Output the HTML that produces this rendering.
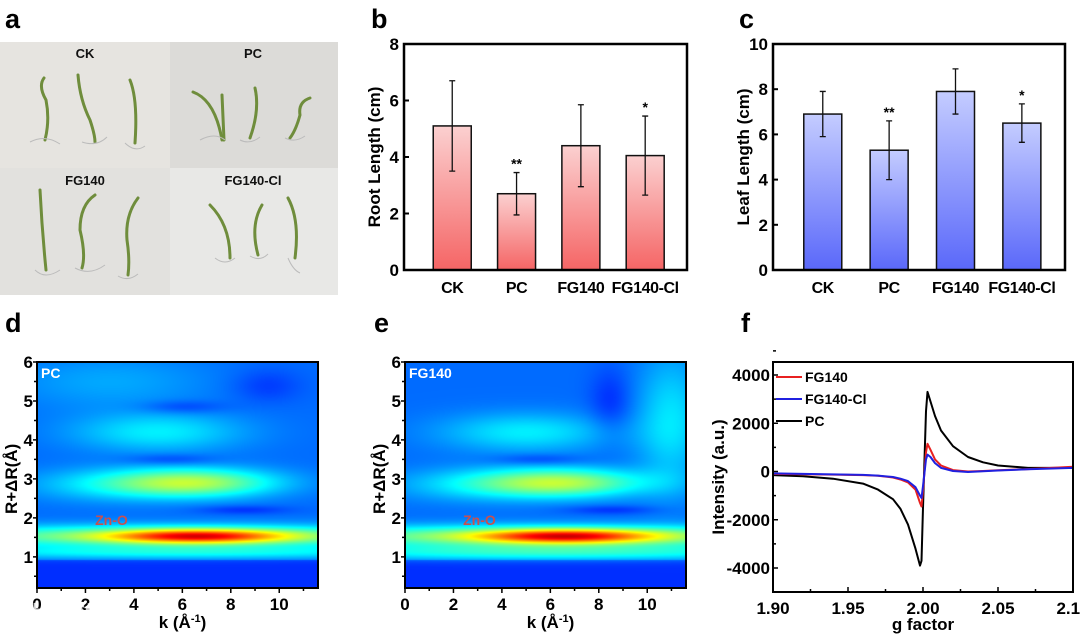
<!DOCTYPE html>
<html><head><meta charset="utf-8">
<style>
body{margin:0;background:#fff;width:1080px;height:634px;overflow:hidden;font-family:"Liberation Sans","Noto Sans CJK SC",sans-serif}
svg{position:absolute;left:0;top:0}
canvas{position:absolute}
</style></head><body>
<canvas id="hd" width="281" height="226" style="left:37px;top:362px"></canvas>
<canvas id="he" width="281" height="226" style="left:405px;top:362px"></canvas>
<svg id="s" width="1080" height="634" xmlns="http://www.w3.org/2000/svg" font-family="Liberation Sans, sans-serif" font-weight="bold">
<defs>
<linearGradient id="gr" x1="0" y1="0" x2="0" y2="1"><stop offset="0" stop-color="#fbd0d0"/><stop offset="1" stop-color="#f56565"/></linearGradient>
<linearGradient id="gb" x1="0" y1="0" x2="0" y2="1"><stop offset="0" stop-color="#c4ccff"/><stop offset="1" stop-color="#5a68fa"/></linearGradient>
</defs>
<g>
<rect x="0" y="42" width="170" height="126" fill="#e6e4e0"/>
<rect x="170" y="42" width="168" height="126" fill="#dcdbd8"/>
<rect x="0" y="168" width="170" height="127" fill="#e2e1de"/>
<rect x="170" y="168" width="168" height="127" fill="#e8e8e6"/>
<g fill="none" stroke="#6f8d3c" stroke-width="3" stroke-linecap="round">
<path d="M44 78 Q38 86 46 100 Q50 120 45 140"/><path d="M78 75 Q80 100 90 120 Q95 135 95 142"/><path d="M130 80 Q138 100 135 143"/>
<path d="M193 92 Q215 100 222 140"/><path d="M222 95 L224 140"/><path d="M255 88 Q260 110 250 138"/><path d="M310 98 Q298 102 300 115 Q296 130 290 138"/>
<path d="M40 190 Q42 230 46 270"/><path d="M95 195 Q80 205 80 230 Q86 255 82 268"/><path d="M138 198 Q125 215 127 240 Q130 260 128 275"/>
<path d="M210 205 Q230 225 230 258"/><path d="M262 205 Q250 225 258 255"/><path d="M288 198 Q300 220 295 258"/>
</g>
<g fill="none" stroke="#bbb" stroke-width="1"><path d="M30 142 q15 -8 30 2 M82 142 q15 5 25 -5 M125 143 q10 10 20 3 M200 140 q15 -8 25 0 M240 140 q10 5 20 -3 M285 138 q10 5 20 -2 M35 270 q10 10 25 0 M75 268 q15 8 30 -3 M118 276 q10 6 20 -2 M215 258 q10 8 20 0 M250 256 q10 6 18 -2 M288 258 q5 12 12 15"/></g>
<g font-size="13" text-anchor="middle" fill="#111"><text x="85" y="58">CK</text><text x="253" y="58">PC</text><text x="85" y="185">FG140</text><text x="253" y="185">FG140-Cl</text></g>
</g>
<g font-size="27" fill="#000"><text x="5" y="28">a</text><text x="371" y="28">b</text><text x="739" y="28">c</text><text x="5" y="332">d</text><text x="374" y="332">e</text><text x="741" y="332">f</text></g>
<g id="gb1"></g><g id="gc1"></g><g id="gd"></g><g id="ge"></g><g id="gf"></g>
<text x="25" y="620" font-size="20" fill="#fff" opacity="0.8" font-family="Noto Sans CJK SC, sans-serif">大数跨境</text>
</svg>
<script>
const NS="http://www.w3.org/2000/svg";
function el(p,t,a,txt){const e=document.createElementNS(NS,t);for(const k in a)e.setAttribute(k,a[k]);if(txt!==undefined)e.textContent=txt;p.appendChild(e);return e;}
// bar data
const barCats=["CK","PC","FG140","FG140-Cl"];
const rootVals=[5.1,2.7,4.4,4.05];
const rootErr=[1.6,0.75,1.45,1.4];
const rootSig=["","**","","*"];
const leafVals=[6.9,5.3,7.9,6.5];
const leafErr=[1.0,1.3,1.0,0.85];
const leafSig=["","**","","*"];
const rootTicks=[0,2,4,6,8];
const leafTicks=[0,2,4,6,8,10];
function bars(g,L,R,T,B,max,ticks,vals,errs,sig,fill,ylabel,nm){
 const y=v=>B-(v/max)*(B-T);const step=(R-L)/4.4;const cx=i=>L+step*(0.75+i);
 vals.forEach((v,i)=>{const r=el(g,'rect',{x:cx(i)-19,y:y(v),width:38,height:B-y(v),fill:fill,stroke:'#111','stroke-width':1.5});
 
 
 const e=el(g,'path',{d:`M${cx(i)} ${y(v+errs[i])}V${y(v-errs[i])}M${cx(i)-3} ${y(v+errs[i])}h6M${cx(i)-3} ${y(v-errs[i])}h6`,stroke:'#111','stroke-width':1.3,fill:'none'});
 
 
 if(sig[i]){const s=el(g,'text',{x:cx(i),y:y(v+errs[i])-4,'font-size':14,'text-anchor':'middle'},sig[i]);}
 const t=el(g,'text',{x:cx(i),y:B+23,'font-size':16,'text-anchor':'middle','letter-spacing':'-0.4'},barCats[i]);});
 const f=el(g,'rect',{x:L,y:T,width:R-L,height:B-T,fill:'none',stroke:'#000','stroke-width':2.5});
 ticks.forEach(v=>{el(g,'path',{d:`M${L} ${y(v)}h5`,stroke:'#000','stroke-width':2});const t=el(g,'text',{x:L-5,y:y(v)+6,'font-size':17,'text-anchor':'end'},v);});
 const yl=el(g,'text',{transform:`translate(${L-24},${(T+B)/2}) rotate(-90)`,'font-size':17,'text-anchor':'middle'},ylabel);
}
bars(document.getElementById('gb1'),404,687,44,270,8,rootTicks,rootVals,rootErr,rootSig,'url(#gr)','Root Length (cm)','root');
bars(document.getElementById('gc1'),773,1065,44,270,10,leafTicks,leafVals,leafErr,leafSig,'url(#gb)','Leaf Length (cm)','leaf');
// wavelet heatmap data: peaks [k, R, amplitude, sigmaK, sigmaR]
const peaksPC=[[6.6,1.52,0.42,2.6,0.13],[6,1.52,0.27,9,0.2],[6.5,2.9,0.3,2.4,0.26],[3,2.85,0.1,2.5,0.3],[5,4.2,0.13,2.5,0.35],[3,5.5,0.06,3,0.5],[6,1.1,0.14,8,0.12],[6,4.85,-0.06,1.2,0.12],[9.5,5.4,-0.05,1.0,0.3],[5.5,3.5,-0.06,1.3,0.1],[8.5,2.2,-0.06,1.3,0.08]];
const peaksFG=[[6.6,1.52,0.42,2.6,0.13],[6,1.52,0.28,9,0.2],[6.5,2.9,0.3,2.4,0.26],[3,2.85,0.1,2.5,0.3],[5,4.2,0.13,2.5,0.35],[11,4.5,0.12,1,1.2],[6,1.1,0.17,8,0.14],[8.5,5.0,-0.06,0.6,0.6],[5.5,3.5,-0.06,1.3,0.1],[8.5,2.2,-0.06,1.3,0.08]];
const kTicks=[0,2,4,6,8,10];const rTicks=[1,2,3,4,5,6];
const K0=0,K1=11.6,R0=0.2,R1=6;
function jet(v){v=Math.max(0,Math.min(1,v));const r=Math.min(1,Math.max(0,1.5-Math.abs(4*v-3))),g=Math.min(1,Math.max(0,1.5-Math.abs(4*v-2))),b=Math.min(1,Math.max(0,1.5-Math.abs(4*v-1)));return[r*255,g*255,b*255];}
function heat(id,peaks){const c=document.getElementById(id),ctx=c.getContext('2d'),W=c.width,H=c.height,im=ctx.createImageData(W,H);
 for(let j=0;j<H;j++){const R=R1-(j/(H-1))*(R1-R0);for(let i=0;i<W;i++){const k=K0+(i/(W-1))*(K1-K0);let v=R<0.9?0.17:0.23;
 for(const p of peaks){v+=p[2]*Math.exp(-((k-p[0])**2)/(2*p[3]**2)-((R-p[1])**2)/(2*p[4]**2));}
 const [r,g,b]=jet(v);const o=(j*W+i)*4;im.data[o]=r;im.data[o+1]=g;im.data[o+2]=b;im.data[o+3]=255;}}
 ctx.putImageData(im,0,0);}
heat('hd',peaksPC);heat('he',peaksFG);
function heatAxes(g,L,tag,nm){const T=362,B=588,R=L+281;const x=k=>L+(k-K0)/(K1-K0)*(R-L),y=r=>B-(r-R0)/(R1-R0)*(B-T);
 const f=el(g,'rect',{x:L,y:T,width:R-L,height:B-T,fill:'none',stroke:'#000','stroke-width':2});
 kTicks.forEach(k=>{el(g,'path',{d:`M${x(k)} ${B}v5M${x(k+1)} ${B}v3`,stroke:'#000','stroke-width':1.5});const t=el(g,'text',{x:x(k),y:B+22,'font-size':17,'text-anchor':'middle'},k);});
 rTicks.forEach(r=>{el(g,'path',{d:`M${L} ${y(r)}h-4M${L} ${y(r-0.5)}h-3`,stroke:'#000','stroke-width':1.5});const t=el(g,'text',{x:L-4,y:y(r)+6,'font-size':17,'text-anchor':'end'},r);});
 const xt=el(g,'text',{x:(L+R)/2+5,y:628,'font-size':17,'text-anchor':'middle'});xt.innerHTML='k (Å<tspan dy="-6" font-size="11">-1</tspan><tspan dy="6">)</tspan>';
 const yt=el(g,'text',{transform:`translate(${L-20},${y(3)}) rotate(-90)`,'font-size':17,'text-anchor':'middle'},'R+ΔR(Å)');
 const tg=el(g,'text',{x:L+4,y:T+16,'font-size':14,fill:'#fff'},tag);
 const zn=el(g,'text',{x:x(2.4),y:y(1.95)+5,'font-size':14,fill:'#c85050'},'Zn-O');}
heatAxes(document.getElementById('gd'),37,'PC','pc');heatAxes(document.getElementById('ge'),405,'FG140','fg140');
// EPR data
const gVals=[1.90,1.92,1.94,1.96,1.97,1.98,1.985,1.99,1.995,1.998,1.999,2.000,2.002,2.003,2.005,2.008,2.012,2.02,2.03,2.04,2.05,2.07,2.10];
const pcVals=[-150,-200,-300,-500,-750,-1150,-1550,-2200,-3200,-3900,-3700,-1500,2500,3300,2900,2300,1700,1050,600,380,250,150,150];
const fgVals=[-100,-110,-130,-150,-180,-250,-330,-450,-750,-1300,-1450,-800,800,1150,900,500,250,60,0,20,50,100,200];
const clVals=[-80,-100,-120,-140,-170,-230,-300,-400,-650,-1000,-1100,-600,500,700,600,350,150,20,-20,10,40,90,150];
const gTicks=[1.90,1.95,2.00,2.05,2.10];const iTicks=[-4000,-2000,0,2000,4000];
(function(){const g=document.getElementById('gf');const L=773,R=1073,T=362,B=592;
 const x=v=>L+(v-1.9)/0.2*(R-L),y=v=>375+(4000-v)/8000*(568-375);
 const ser=[[fgVals,'#e82020','FG140'],[clVals,'#2020e0','FG140-Cl'],[pcVals,'#000','PC']];
 [ser[2],ser[0],ser[1]].forEach(s=>{const p=el(g,'path',{d:gVals.map((gv,i)=>(i?'L':'M')+x(gv).toFixed(1)+' '+y(s[0][i]).toFixed(1)).join(''),fill:'none',stroke:s[1],'stroke-width':2,'stroke-linejoin':'round'});
 
 });
 const f=el(g,'rect',{x:L,y:T,width:R-L,height:B-T,fill:'none',stroke:'#000','stroke-width':2});
 gTicks.forEach(v=>{el(g,'path',{d:`M${x(v)} ${B}v-5M${x(v+0.025)} ${B}v-3`,stroke:'#000','stroke-width':1.5});const t=el(g,'text',{x:x(v),y:B+22,'font-size':17,'text-anchor':'middle'},v.toFixed(2));});
 iTicks.forEach(v=>{el(g,'path',{d:`M${L} ${y(v)}h5M${L} ${y(v+1000)}h3`,stroke:'#000','stroke-width':1.5});const t=el(g,'text',{x:L-3,y:y(v)+6,'font-size':17,'text-anchor':'end'},v);});
 const xt=el(g,'text',{x:(L+R)/2,y:630,'font-size':17,'text-anchor':'middle'},'g factor');
 const yt=el(g,'text',{transform:`translate(724,${(T+B)/2}) rotate(-90)`,'font-size':17,'text-anchor':'middle'},'Intensity (a.u.)');
 ser.forEach((s,i)=>{const ly=377+i*22;el(g,'path',{d:`M${L+3} ${ly}h26`,stroke:s[1],'stroke-width':2});const t=el(g,'text',{x:L+32,y:ly+5,'font-size':14},s[2]);});
})();
</script>
</body></html>
